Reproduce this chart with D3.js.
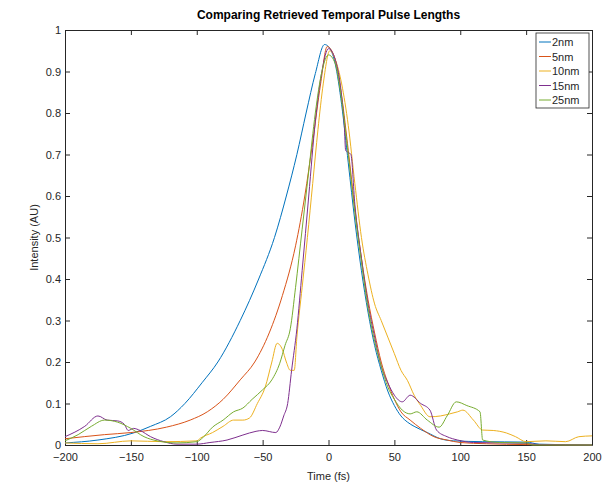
<!DOCTYPE html>
<html>
<head>
<meta charset="utf-8">
<script src="https://cdn.jsdelivr.net/npm/d3@7"></script>
<style>
  body { margin: 0; background: #fff; }
  svg text { font-family: "Liberation Sans", Arial, sans-serif; }
</style>
</head>
<body>
<div id="chart"></div>
<script>
// series labels + colours (matlab defaults)
var seriesNames = ["2nm", "5nm", "10nm", "15nm", "25nm"];
var seriesColors = ["#0072BD", "#D95319", "#EDB120", "#7E2F8E", "#77AC30"];

// time (fs) / intensity pairs, one pair of arrays per series
var t2 = [-200,-175,-148,-135,-120,-109,-96,-84,-67,-53,-41,-32,-24,-17,-10,-3,0,5,10,15,20,25,30,35,40,45,50,55,60,65,75,85,95,117,150,160,200];
var i2 = [0.005,0.012,0.029,0.045,0.068,0.1,0.15,0.2,0.3,0.4,0.5,0.6,0.7,0.8,0.895,0.965,0.96,0.92,0.82,0.68,0.54,0.42,0.32,0.24,0.18,0.13,0.095,0.07,0.055,0.045,0.03,0.015,0.01,0.008,0.007,0.002,0];

var t5 = [-200,-170,-150,-123,-105,-92,-80,-67,-56,-45,-35,-25,-18,-12,-6,-1,5,10,15,20,25,30,35,40,45,50,55,62,70,80,90,100,120,150,200];
var i5 = [0.015,0.025,0.03,0.043,0.06,0.08,0.11,0.157,0.2,0.27,0.36,0.48,0.6,0.73,0.87,0.96,0.93,0.84,0.71,0.57,0.45,0.35,0.27,0.2,0.15,0.11,0.08,0.06,0.04,0.02,0.012,0.006,0.003,0.001,0];

var t10 = [-200,-175,-150,-125,-100,-97,-88,-80,-72,-65,-60,-54,-48,-43,-39,-35,-32,-29,-26,-24,-20,-16,-12,-8,-4,1,5,10,15,20,25,30,35,40,45,50,55,60,65,70,77,85,92,98,102,110,117,125,135,142,150,165,180,190,200];
var i10 = [0.005,0.003,0.01,0.008,0.01,0.017,0.03,0.045,0.06,0.06,0.065,0.1,0.14,0.2,0.245,0.23,0.2,0.18,0.18,0.26,0.38,0.5,0.63,0.76,0.87,0.95,0.93,0.87,0.77,0.63,0.5,0.41,0.34,0.3,0.26,0.22,0.18,0.155,0.12,0.095,0.068,0.07,0.075,0.08,0.084,0.06,0.036,0.035,0.029,0.02,0.008,0.01,0.008,0.02,0.022];

var t15 = [-200,-185,-175,-168,-160,-155,-152,-148,-143,-135,-125,-115,-100,-90,-77,-65,-55,-50,-40,-37,-34,-31,-28,-24,-20,-15,-10,-5,0,5,10,12,13,17,20,25,30,35,40,45,50,56,62,70,77,82,90,98,110,150,160,200];
var i15 = [0.02,0.045,0.07,0.06,0.058,0.05,0.035,0.04,0.035,0.02,0.008,0.002,0.002,0.006,0.012,0.024,0.033,0.035,0.03,0.043,0.07,0.1,0.18,0.28,0.42,0.6,0.78,0.9,0.955,0.93,0.84,0.77,0.71,0.7,0.58,0.45,0.34,0.26,0.19,0.15,0.12,0.104,0.12,0.1,0.084,0.036,0.02,0.012,0.006,0.004,0.001,0];

var t25 = [-200,-190,-180,-170,-160,-150,-140,-130,-115,-100,-95,-88,-80,-72,-65,-58,-50,-43,-37,-33,-29,-25,-20,-15,-10,-5,0,5,10,15,20,25,30,35,40,45,50,56,62,67,75,84,90,97,105,115,117,130,150,155,200];
var i25 = [0.01,0.025,0.045,0.06,0.055,0.04,0.02,0.01,0.005,0.008,0.019,0.043,0.06,0.08,0.089,0.11,0.133,0.157,0.197,0.24,0.28,0.38,0.52,0.66,0.8,0.9,0.94,0.92,0.83,0.7,0.56,0.44,0.33,0.25,0.19,0.14,0.11,0.084,0.075,0.08,0.06,0.043,0.07,0.104,0.095,0.08,0.012,0.006,0.005,0,0];

var xTicks = [-200,-150,-100,-50,0,50,100,150,200];
var yTicks = [0,0.1,0.2,0.3,0.4,0.5,0.6,0.7,0.8,0.9,1];

var times = [t2, t5, t10, t15, t25];
var values = [i2, i5, i10, i15, i25];

var margin = {top: 30, right: 23, bottom: 40, left: 65},
    width = 615 - margin.left - margin.right,
    height = 485 - margin.top - margin.bottom;

var svg = d3.select("#chart").append("svg")
    .attr("width", 615)
    .attr("height", 485);

var g = svg.append("g")
    .attr("transform", "translate(" + margin.left + "," + margin.top + ")");

var x = d3.scaleLinear().domain([-200, 200]).range([0, width]);
var y = d3.scaleLinear().domain([0, 1]).range([height, 0]);

// box + inward ticks on all four sides
function styleAxis(sel) {
  sel.select(".domain").attr("stroke", "#262626").attr("stroke-width", 1);
  sel.selectAll(".tick line").attr("stroke", "#262626");
  sel.selectAll(".tick text").attr("fill", "#262626").style("font-size", "11px");
}

g.append("g").attr("transform", "translate(0," + height + ")")
  .call(d3.axisBottom(x).tickValues(xTicks).tickSizeInner(-5).tickSizeOuter(0).tickPadding(8))
  .call(styleAxis);
g.append("g")
  .call(d3.axisTop(x).tickValues(xTicks).tickSizeInner(-5).tickSizeOuter(0).tickFormat(""))
  .call(styleAxis);
g.append("g")
  .call(d3.axisLeft(y).tickValues(yTicks).tickSizeInner(-5).tickSizeOuter(0).tickPadding(4).tickFormat(d3.format("~g")))
  .call(styleAxis);
g.append("g").attr("transform", "translate(" + width + ",0)")
  .call(d3.axisRight(y).tickValues(yTicks).tickSizeInner(-5).tickSizeOuter(0).tickFormat(""))
  .call(styleAxis);

var line = d3.line()
  .curve(d3.curveMonotoneX)
  .x(function(d) { return x(d[0]); })
  .y(function(d) { return y(d[1]); });

seriesNames.forEach(function(name, k) {
  var pts = times[k].map(function(t, j) { return [t, values[k][j]]; });
  g.append("path")
    .datum(pts)
    .attr("fill", "none")
    .attr("stroke", seriesColors[k])
    .attr("stroke-width", 1)
    .attr("stroke-linejoin", "round")
    .attr("d", line);
});

// title + axis labels
svg.append("text")
  .attr("x", margin.left + width / 2)
  .attr("y", 19)
  .attr("text-anchor", "middle")
  .style("font-size", "12px")
  .style("font-weight", "bold")
  .attr("fill", "#000")
  .text("Comparing Retrieved Temporal Pulse Lengths");

svg.append("text")
  .attr("x", margin.left + width / 2)
  .attr("y", 480)
  .attr("text-anchor", "middle")
  .style("font-size", "11px")
  .attr("fill", "#262626")
  .text("Time (fs)");

svg.append("text")
  .attr("transform", "translate(38," + (margin.top + height / 2) + ") rotate(-90)")
  .attr("text-anchor", "middle")
  .style("font-size", "11px")
  .attr("fill", "#262626")
  .text("Intensity (AU)");

// legend
var legend = g.append("g").attr("transform", "translate(" + (width - 56) + ",3)");
legend.append("rect")
  .attr("width", 53).attr("height", 75)
  .attr("fill", "#fff")
  .attr("stroke", "#262626")
  .attr("stroke-width", 0.8);
seriesNames.forEach(function(name, k) {
  var ly = 9 + k * 14.5;
  legend.append("line")
    .attr("x1", 3).attr("x2", 15)
    .attr("y1", ly).attr("y2", ly)
    .attr("stroke", seriesColors[k]);
  legend.append("text")
    .attr("x", 16).attr("y", ly + 4)
    .style("font-size", "11px")
    .attr("fill", "#262626")
    .text(name);
});
</script>
</body>
</html>
